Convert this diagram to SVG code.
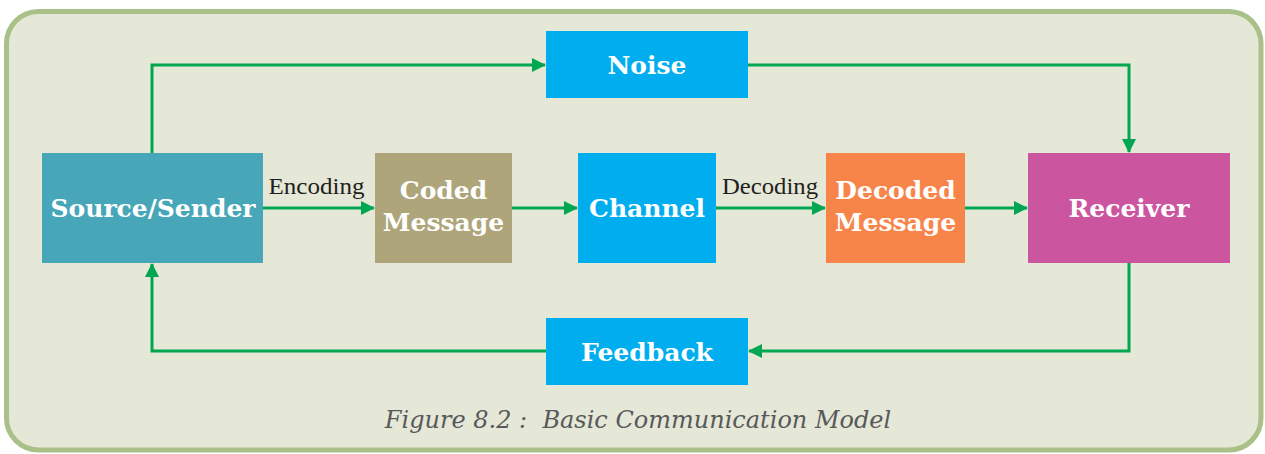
<svg xmlns="http://www.w3.org/2000/svg" width="1265" height="454" viewBox="0 0 1265 454">
<defs>
<style>
.box{stroke:none}
.lbl{font-family:"DejaVu Serif","Liberation Serif",serif;font-weight:bold;font-size:25px;fill:#ffffff;text-anchor:middle}
.edge{fill:none;stroke:#00a651;stroke-width:3}
.elbl{font-family:"Liberation Serif","DejaVu Serif",serif;font-size:23px;fill:#231f20;text-anchor:middle}
.cap{font-family:"DejaVu Serif","Liberation Serif",serif;font-style:italic;font-size:24px;fill:#58595b;text-anchor:middle}
</style>
<marker id="arr" markerWidth="14" markerHeight="14" refX="13" refY="7" orient="auto" markerUnits="userSpaceOnUse">
<path d="M0,0 L14,7 L0,14 Z" fill="#00a651"/>
</marker>
</defs>
<rect x="6.5" y="11.5" width="1254.5" height="438.5" rx="32" ry="32" fill="#e5e8d6" stroke="#a9c088" stroke-width="5"/>
<g id="connectors">
<path class="edge" d="M152,153 V65 H545" marker-end="url(#arr)"/>
<path class="edge" d="M748,65 H1129 V152" marker-end="url(#arr)"/>
<path class="edge" d="M263,208 H374" marker-end="url(#arr)"/>
<path class="edge" d="M512,208 H577" marker-end="url(#arr)"/>
<path class="edge" d="M716,208 H825" marker-end="url(#arr)"/>
<path class="edge" d="M965,208 H1027" marker-end="url(#arr)"/>
<path class="edge" d="M1129,263 V351 H749" marker-end="url(#arr)"/>
<path class="edge" d="M546,351 H152 V264" marker-end="url(#arr)"/>
<text class="elbl" x="316.5" y="194" textLength="96" lengthAdjust="spacingAndGlyphs">Encoding</text>
<text class="elbl" x="770" y="194" textLength="96" lengthAdjust="spacingAndGlyphs">Decoding</text>
</g>
<g id="noise">
<rect class="box" x="546" y="31" width="202" height="67" fill="#00aeef"/>
<text class="lbl" x="647" y="74">Noise</text>
</g>
<g id="source">
<rect class="box" x="42" y="153" width="221" height="110" fill="#47a7b8"/>
<text class="lbl" x="153" y="217">Source/Sender</text>
</g>
<g id="coded">
<rect class="box" x="375" y="153" width="137" height="110" fill="#aea57a"/>
<text class="lbl" x="443.5" y="199">Coded</text>
<text class="lbl" x="443.5" y="231">Message</text>
</g>
<g id="channel">
<rect class="box" x="578" y="153" width="138" height="110" fill="#00aeef"/>
<text class="lbl" x="647" y="217">Channel</text>
</g>
<g id="decoded">
<rect class="box" x="826" y="153" width="139" height="110" fill="#f7854a"/>
<text class="lbl" x="895.5" y="199">Decoded</text>
<text class="lbl" x="895.5" y="231">Message</text>
</g>
<g id="receiver">
<rect class="box" x="1028" y="153" width="202" height="110" fill="#cc55a0"/>
<text class="lbl" x="1129" y="217">Receiver</text>
</g>
<g id="feedback">
<rect class="box" x="546" y="318" width="202" height="67" fill="#00aeef"/>
<text class="lbl" x="647" y="361">Feedback</text>
</g>
<text class="cap" x="638" y="428" xml:space="preserve">Figure 8.2 :  Basic Communication Model</text>
</svg>
